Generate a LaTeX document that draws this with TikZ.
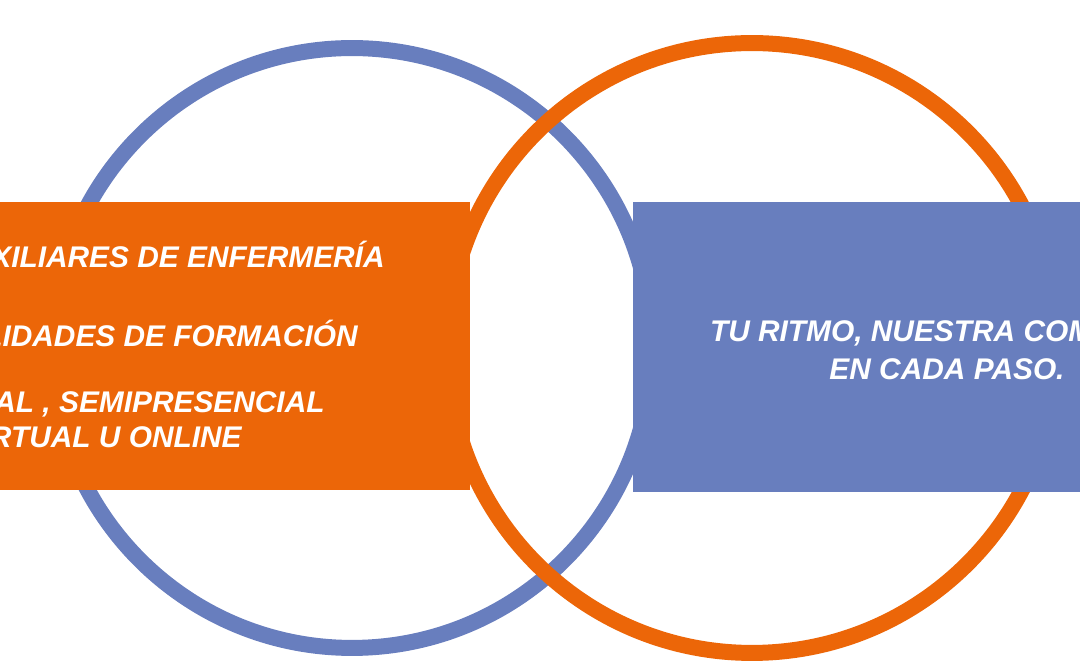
\documentclass[tikz,border=0pt]{standalone}
\usepackage{fontspec}
\setmainfont{Liberation Sans}
\definecolor{naranja}{RGB}{236,102,8}
\definecolor{azul}{RGB}{104,126,190}
\tikzset{
  aro/.style={line width=0.32cm},
  rotulo/.style={text=white, font=\fontsize{17}{20}\selectfont\bfseries\itshape, inner sep=0pt}
}
\begin{document}
\begin{tikzpicture}[x=0.02cm,y=-0.02cm]
  \useasboundingbox (0,0) rectangle (1080,668);
  \clip (0,0) rectangle (1080,668);
  % rings
  \draw[aro, azul]    (352,348) circle (6cm);
  \draw[aro, naranja] (752,348) circle (6.1cm);
  % bands
  \fill[naranja] (0,202) rectangle (470,490);
  \fill[azul]    (633,202) rectangle (1080,492);
  % left texts
  \node[rotulo, anchor=base east] (aux)  at (385,268) {AUXILIARES DE ENFERMERÍA};
  \node[rotulo, anchor=base east] (moda) at (358,347) {MODALIDADES DE FORMACIÓN};
  \node[rotulo, anchor=base east] (pres) at (325,413) {PRESENCIAL , SEMIPRESENCIAL};
  \node[rotulo, anchor=base east] (virt) at (242,448) {VIRTUAL U ONLINE};
  % right text
  \node[rotulo, align=center, anchor=base] (ritmo) at (947,380)
    {\strut TU RITMO, NUESTRA COMPAÑÍA\\[0.1em]EN CADA PASO.};
\end{tikzpicture}
\end{document}
